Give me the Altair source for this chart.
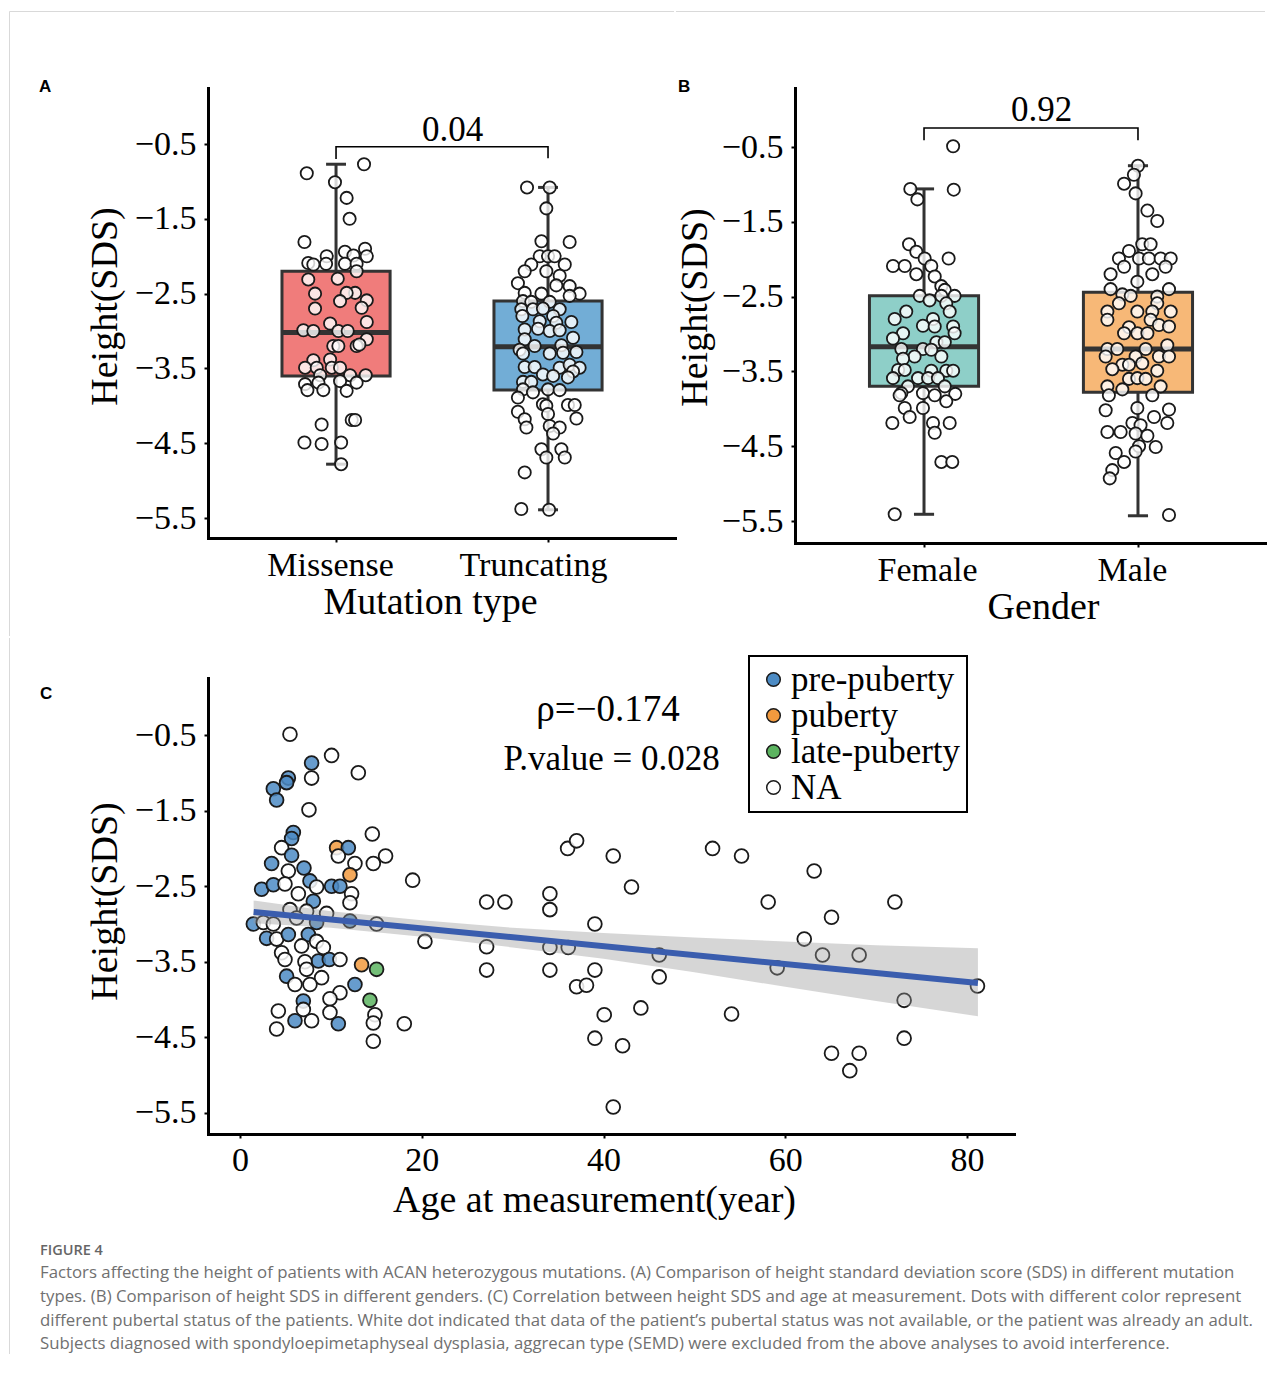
import altair as alt
import pandas as pd

SERIF = "Liberation Serif"
SANS = "Liberation Sans"
CAP_FONT = "Open Sans"
INK = "#333333"
BORDER = "#d9d9d9"

# ---------------- Panel A: mutation type ----------------
mut_categories = ["Missense", "Truncating"]
mut_colors = ["#F07C7B", "#72ADD6"]
mut_upper_hinge = [-2.20, -2.60]
mut_lower_hinge = [-3.60, -3.79]
mut_median = [-3.02, -3.21]
mut_whisker_top = [-0.77, -1.08]
mut_whisker_bottom = [-4.78, -5.39]
missense_sds = [-0.89, -0.77, -1.01, -1.22, -1.50, -1.81, -1.94, -1.90, -2.00, -1.99,
                -2.00, -2.09, -2.11, -2.10, -2.10, -2.10, -2.20, -2.31, -2.30, -2.49,
                -2.49, -2.50, -2.60, -2.59, -2.70, -2.69, -2.88, -2.90, -2.99, -3.00,
                -3.00, -3.00, -3.11, -3.20, -3.18, -3.20, -3.20, -3.39, -3.38, -3.49,
                -3.49, -3.49, -3.49, -3.59, -3.59, -3.59, -3.71, -3.69, -3.67, -3.69,
                -3.79, -3.79, -3.80, -4.19, -4.19, -4.25, -4.49, -4.51, -4.49, -4.78]
missense_jitter = [-0.138, 0.132, -0.005, 0.050, 0.064, -0.149, 0.042, 0.137, -0.044, 0.082,
                   0.145, -0.131, -0.107, -0.047, 0.042, 0.097, 0.097, -0.131, 0.008, 0.090,
                   0.050, -0.099, 0.019, 0.145, -0.099, 0.121, 0.145, -0.028, -0.154, -0.107,
                   0.011, 0.055, 0.145, 0.097, 0.110, -0.013, 0.011, -0.107, -0.028, -0.146,
                   -0.091, -0.020, 0.019, -0.075, 0.066, 0.140, -0.146, -0.083, 0.019, 0.097,
                   -0.135, -0.060, 0.050, 0.074, 0.090, -0.068, -0.149, -0.068, 0.024, 0.024]
truncating_sds = [-1.08, -1.08, -1.36, -1.80, -1.81, -2.00, -2.00, -2.00, -2.11, -2.11,
                  -2.20, -2.20, -2.26, -2.36, -2.39, -2.40, -2.50, -2.53, -2.49, -2.50,
                  -2.60, -2.61, -2.61, -2.71, -2.71, -2.70, -2.71, -2.80, -2.80, -2.87,
                  -2.88, -2.89, -2.98, -2.97, -3.00, -2.99, -3.09, -3.11, -3.19, -3.28,
                  -3.25, -3.30, -3.30, -3.29, -3.20, -3.48, -3.48, -3.49, -3.45, -3.49,
                  -3.54, -3.58, -3.60, -3.62, -3.68, -3.68, -3.78, -3.79, -3.78, -3.89,
                  -3.82, -3.98, -4.00, -3.99, -3.99, -4.08, -4.11, -4.17, -4.18, -4.29,
                  -4.27, -4.29, -4.37, -4.58, -4.58, -4.69, -4.69, -4.89, -5.38, -5.39]
truncating_jitter = [-0.099, 0.008, -0.008, -0.031, 0.102, -0.039, 0.000, 0.031, -0.079, 0.079,
                     -0.110, -0.008, 0.055, -0.142, 0.039, 0.102, 0.149, 0.102, -0.110, -0.031,
                     -0.118, -0.079, 0.008, -0.126, -0.071, -0.024, 0.055, -0.121, 0.024, -0.039,
                     0.110, 0.039, -0.110, -0.047, 0.008, 0.055, 0.118, -0.110, 0.063, 0.134,
                     -0.134, -0.118, 0.008, 0.071, -0.063, -0.110, -0.063, 0.055, 0.102, 0.149,
                     0.118, -0.024, 0.024, 0.094, -0.118, -0.079, 0.000, 0.055, -0.118, -0.142,
                     -0.071, -0.024, -0.008, 0.094, 0.126, -0.142, 0.000, 0.134, -0.110, -0.102,
                     0.008, 0.055, 0.024, -0.031, 0.063, -0.008, 0.079, -0.110, -0.126, 0.005]
mut_p_value = "0.04"
mut_bracket_y = [-0.70, -0.536, -0.536, -0.69]
mut_p_y = -0.46

# ---------------- Panel B: gender ----------------
gender_categories = ["Female", "Male"]
gender_colors = ["#8ECFC8", "#F7B877"]
gender_upper_hinge = [-2.49, -2.44]
gender_lower_hinge = [-3.70, -3.78]
gender_median = [-3.17, -3.20]
gender_whisker_top = [-1.06, -0.75]
gender_whisker_bottom = [-5.41, -5.43]
female_sds = [-0.49, -1.06, -1.07, -1.20, -1.80, -1.90, -1.99, -1.99, -2.09, -2.09,
              -2.09, -2.20, -2.23, -2.36, -2.41, -2.49, -2.55, -2.49, -2.49, -2.59,
              -2.70, -2.80, -2.70, -2.80, -2.89, -2.90, -2.90, -2.99, -2.99, -3.06,
              -3.11, -3.11, -3.20, -3.20, -3.30, -3.33, -3.30, -3.21, -3.48, -3.48,
              -3.49, -3.49, -3.49, -3.59, -3.59, -3.59, -3.59, -3.70, -3.70, -3.79,
              -3.79, -3.82, -3.80, -3.99, -3.99, -3.90, -4.11, -4.19, -4.19, -4.19,
              -4.32, -4.71, -4.71, -5.41, -3.82]
female_jitter = [0.136, -0.064, 0.139, -0.031, -0.070, -0.036, 0.003, 0.115, -0.145, -0.090,
                 0.034, -0.036, 0.050, 0.081, 0.097, -0.020, 0.026, 0.081, 0.143, 0.104,
                 -0.083, -0.137, 0.120, 0.042, -0.005, 0.050, 0.136, 0.143, -0.098, -0.145,
                 0.058, 0.097, -0.106, -0.005, -0.044, -0.098, 0.081, 0.034, -0.121, -0.090,
                 0.034, 0.104, 0.136, -0.145, -0.028, 0.019, 0.065, -0.075, 0.097, -0.106,
                 -0.005, 0.050, 0.146, -0.090, -0.005, 0.104, -0.067, -0.148, 0.042, 0.120,
                 0.050, 0.081, 0.132, -0.137, -0.114]
male_sds = [-0.75, -0.87, -0.99, -1.12, -1.35, -1.49, -1.80, -1.80, -1.89, -1.99,
            -1.99, -1.99, -1.99, -1.99, -2.10, -2.10, -2.20, -2.20, -2.30, -2.40,
            -2.40, -2.47, -2.49, -2.50, -2.59, -2.59, -2.70, -2.70, -2.70, -2.70,
            -2.81, -2.81, -2.91, -2.88, -2.90, -2.99, -2.99, -2.99, -3.15, -3.20,
            -3.20, -3.20, -3.30, -3.30, -3.30, -3.30, -3.41, -3.41, -3.39, -3.47,
            -3.49, -3.60, -3.59, -3.60, -3.70, -3.74, -3.70, -3.82, -3.82, -3.99,
            -4.02, -4.01, -4.11, -4.19, -4.19, -4.22, -4.31, -4.31, -4.33, -4.36,
            -4.50, -4.51, -4.57, -4.59, -4.71, -4.82, -4.93, -5.42]
male_jitter = [0.000, -0.019, -0.065, -0.011, 0.044, 0.090, 0.020, 0.059, -0.042, -0.089,
               0.005, 0.051, 0.106, 0.153, -0.065, 0.129, 0.067, -0.128, -0.003, -0.128,
               0.145, -0.073, -0.034, 0.090, -0.089, 0.090, -0.143, -0.003, 0.067, 0.153,
               -0.143, 0.059, -0.042, 0.098, 0.145, -0.003, 0.044, -0.065, 0.137, -0.143,
               -0.097, 0.036, -0.151, -0.011, 0.098, 0.145, -0.073, -0.042, 0.020, -0.120,
               0.090, -0.042, -0.003, 0.036, -0.143, -0.073, 0.106, -0.136, 0.067, -0.003,
               -0.151, 0.145, 0.075, 0.137, -0.026, 0.012, -0.143, -0.081, -0.011, 0.044,
               0.005, 0.083, -0.011, -0.104, -0.065, -0.120, -0.132, 0.145]
gender_p_value = "0.92"
gender_bracket_y = [-0.41, -0.246, -0.246, -0.41]
gender_p_y = -0.152

# ---------------- Panel C: age vs height ----------------
age_years = [5.50, 10.08, 7.88, 13.02, 7.88, 5.32, 5.13, 3.67, 4.03, 7.59,
             5.87, 14.56, 5.68, 4.58, 10.63, 11.92, 10.82, 5.68, 12.65, 14.67,
             16.02, 3.48, 5.32, 7.04, 12.10, 19.00, 2.38, 3.67, 4.95, 7.70,
             8.43, 10.08, 11.00, 12.28, 6.42, 8.07, 12.10, 5.50, 7.33, 9.53,
             1.47, 2.57, 3.67, 6.23, 8.43, 12.10, 15.03, 20.35, 2.93, 4.03,
             5.32, 7.52, 8.43, 6.78, 9.17, 4.58, 8.62, 9.83, 11.00, 7.15,
             13.38, 15.03, 5.13, 7.33, 8.98, 6.05, 7.70, 12.65, 11.00, 6.97,
             9.90, 14.30, 4.22, 6.97, 9.90, 14.85, 6.05, 7.88, 10.82, 14.67,
             18.08, 4.03, 14.67, 4.95,
             36.05, 37.04, 41.07, 52.00, 43.08, 27.14, 29.15, 34.10, 34.10, 39.05,
             27.14, 34.10, 36.12, 46.13, 27.14, 34.10, 39.05, 37.04, 38.13, 46.13,
             40.08, 44.11, 39.05, 42.10, 41.07, 55.19, 63.18, 58.12, 72.06, 65.09,
             62.09, 64.10, 68.13, 59.11, 81.15, 73.08, 54.09, 73.08, 65.09, 68.13,
             67.10]
height_sds = [-0.49, -0.77, -0.87, -1.00, -1.07, -1.07, -1.13, -1.21, -1.36, -1.49,
              -1.79, -1.81, -1.87, -1.99, -1.99, -1.99, -2.10, -2.09, -2.20, -2.20,
              -2.10, -2.20, -2.30, -2.26, -2.35, -2.42, -2.54, -2.48, -2.47, -2.43,
              -2.51, -2.50, -2.50, -2.60, -2.60, -2.70, -2.72, -2.81, -2.83, -2.86,
              -3.00, -2.98, -3.00, -2.92, -2.98, -2.96, -3.00, -3.23, -3.19, -3.20,
              -3.14, -3.14, -3.23, -3.29, -3.31, -3.38, -3.49, -3.47, -3.47, -3.50,
              -3.54, -3.60, -3.69, -3.60, -3.71, -3.80, -3.80, -3.80, -3.91, -4.02,
              -3.99, -4.01, -4.15, -4.13, -4.17, -4.20, -4.28, -4.28, -4.32, -4.31,
              -4.32, -4.39, -4.55, -3.47,
              -2.00, -1.90, -2.10, -2.00, -2.51, -2.71, -2.71, -2.60, -2.81, -3.00,
              -3.30, -3.31, -3.31, -3.41, -3.61, -3.61, -3.61, -3.83, -3.81, -3.70,
              -4.20, -4.11, -4.51, -4.61, -5.42, -2.10, -2.30, -2.71, -2.71, -2.91,
              -3.20, -3.41, -3.41, -3.58, -3.82, -4.01, -4.19, -4.51, -4.71, -4.71,
              -4.94]
# P = pre-puberty, U = puberty, L = late-puberty, N = not available
status_codes = list("NNPNNPPPPN" "PNPNUPNPNN" "NPNPUNPPNP" "NPPNNPNNNN"
                    "PNNNPPNNPN" "PPNNNNPPNN" "ULPNNNNPNP" "NLNNNNPNPN" "NNNN") + ["N"] * 41
status_names = {"P": "pre-puberty", "U": "puberty", "L": "late-puberty", "N": "NA"}
stage_order = ["pre-puberty", "puberty", "late-puberty", "NA"]
stage_colors = ["#4C8BC4", "#F29A3E", "#5CB460", "#FFFFFF"]
fit_age = [1.5, 81.2]
fit_sds = [-2.84, -3.78]
band_age = [1.5, 10, 20, 30, 40, 50, 60, 70, 81.2]
band_lower = [-2.99, -3.05, -3.17, -3.31, -3.46, -3.64, -3.83, -4.02, -4.22]
band_upper = [-2.69, -2.83, -2.95, -3.05, -3.12, -3.18, -3.23, -3.28, -3.32]
rho_text = "ρ=−0.174"
rho_pos = (40.5, -0.315)
pval_text = "P.value = 0.028"
pval_pos = (40.9, -0.963)

caption_head = "FIGURE 4"
caption_lines = [
    "Factors affecting the height of patients with ACAN heterozygous mutations. (A) Comparison of height standard deviation score (SDS) in different mutation",
    "types. (B) Comparison of height SDS in different genders. (C) Correlation between height SDS and age at measurement. Dots with different color represent",
    "different pubertal status of the patients. White dot indicated that data of the patient\u2019s pubertal status was not available, or the patient was already an adult.",
    "Subjects diagnosed with spondyloepimetaphyseal dysplasia, aggrecan type (SEMD) were excluded from the above analyses to avoid interference.",
]

y_ticks = [-0.5, -1.5, -2.5, -3.5, -4.5, -5.5]
one = pd.DataFrame({"k": [0]})


def text_at(txt, x, y, size, font=SERIF, weight="normal", color="black", align="left"):
    return alt.Chart(one).mark_text(text=txt, font=font, fontSize=size, fontWeight=weight,
                                    color=color, align=align, baseline="alphabetic").encode(
        x=alt.value(x), y=alt.value(y))


def hline(x1, x2, y):
    return alt.Chart(one).mark_rule(color=BORDER, strokeWidth=1).encode(
        x=alt.value(x1), x2=alt.value(x2), y=alt.value(y))


def vline(x, y1, y2):
    return alt.Chart(one).mark_rule(color=BORDER, strokeWidth=1).encode(
        x=alt.value(x), y=alt.value(y1), y2=alt.value(y2))


def box_panel(cats, colors, up, lo, med, wtop, wbot, groups, pval, br_y, p_y,
              xdom, ydom, width, height, xtitle, title_x, title_y, ytitle_pad,
              label, label_x, label_shift, decorations):
    box_df = pd.DataFrame({"cat": cats, "pos": [1, 2], "up": up, "lo": lo, "med": med,
                           "wtop": wtop, "wbot": wbot})
    rows = []
    for i, (sds, jit) in enumerate(groups):
        for s, j in zip(sds, jit):
            rows.append({"cat": cats[i], "xp": i + 1 + j, "sds": s})
    pts_df = pd.DataFrame(rows)
    br_df = pd.DataFrame({"bx": [1, 1, 2, 2], "by": br_y, "k": [0, 1, 2, 3]})
    p_df = pd.DataFrame({"px": [1.55], "py": [p_y], "lab": [pval]})

    xs = alt.Scale(domain=xdom, nice=False, zero=False)
    ys = alt.Scale(domain=ydom, nice=False, zero=False)
    xaxis = alt.Axis(values=[1, 2], labelExpr=f"datum.value == 1 ? '{cats[0]}' : '{cats[1]}'",
                     labelPadding=6, titlePadding=1, titleX=title_x, grid=False,
                     domainCap="square",
                     labelOffset=alt.condition("datum.value == 1", alt.value(label_shift[0]),
                                               alt.value(label_shift[1])))
    yaxis = alt.Axis(values=y_ticks, format=".1f", labelPadding=8, titlePadding=ytitle_pad,
                     titleY=title_y, grid=False, domainCap="square")

    def X(f):
        return alt.X(f, scale=xs, axis=xaxis, title=xtitle)

    def Y(f):
        return alt.Y(f, scale=ys, axis=yaxis, title="Height(SDS)")

    base = alt.Chart(box_df).transform_calculate(
        xl="datum.pos - 0.255", xr="datum.pos + 0.255",
        cl="datum.pos - 0.047", cr="datum.pos + 0.047")
    whisk = base.mark_rule(color=INK, strokeWidth=3).encode(x=X("pos:Q"), y=Y("wbot:Q"), y2="wtop:Q")
    cap_lo = base.mark_rule(color=INK, strokeWidth=3).encode(x=X("cl:Q"), x2="cr:Q", y=Y("wbot:Q"))
    cap_hi = base.mark_rule(color=INK, strokeWidth=3).encode(x=X("cl:Q"), x2="cr:Q", y=Y("wtop:Q"))
    box = base.mark_rect(stroke=INK, strokeWidth=3).encode(
        x=X("xl:Q"), x2="xr:Q", y=Y("up:Q"), y2="lo:Q",
        fill=alt.Fill("cat:N", scale=alt.Scale(domain=cats, range=colors), legend=None))
    median = base.mark_rule(color=INK, strokeWidth=5).encode(x=X("xl:Q"), x2="xr:Q", y=Y("med:Q"))
    pts = alt.Chart(pts_df).mark_circle(size=150, fill="white", fillOpacity=0.8, stroke="#1a1a1a",
                                        strokeWidth=1.8, opacity=1).encode(x=X("xp:Q"), y=Y("sds:Q"))
    bracket = alt.Chart(br_df).mark_line(color="black", strokeWidth=1.6).encode(
        x=X("bx:Q"), y=Y("by:Q"), order="k:Q")
    ptxt = alt.Chart(p_df).mark_text(font=SERIF, fontSize=35, baseline="alphabetic",
                                     align="center").encode(x=X("px:Q"), y=Y("py:Q"), text="lab:N")
    lab = text_at(label, label_x, 4, 17, font=SANS, weight="bold")
    layers = [whisk, box, median, cap_lo, cap_hi, pts, bracket, ptxt, lab] + decorations
    return alt.layer(*layers).properties(width=width, height=height)


panel_a = box_panel(mut_categories, mut_colors, mut_upper_hinge, mut_lower_hinge, mut_median,
                    mut_whisker_top, mut_whisker_bottom,
                    [(missense_sds, missense_jitter), (truncating_sds, truncating_jitter)],
                    mut_p_value, mut_bracket_y, mut_p_y,
                    [0.396, 2.599], [-5.767, 0.249], 467, 450, "Mutation type", 222, 218, 10,
                    "A", -169, (-6, -15),
                    [vline(-198.5, -76.5, 548), hline(-198.5, 466, -76.5)])

panel_b = box_panel(gender_categories, gender_colors, gender_upper_hinge, gender_lower_hinge,
                    gender_median, gender_whisker_top, gender_whisker_bottom,
                    [(female_sds, female_jitter), (male_sds, male_jitter)],
                    gender_p_value, gender_bracket_y, gender_p_y,
                    [0.397, 2.603], [-5.794, 0.289], 472, 455, "Gender", 248, 219, 7,
                    "B", -117, (3, -6),
                    [hline(-119, 470, -76.5)])

# ---- panel C
c_df = pd.DataFrame({"age": age_years, "sds": height_sds,
                     "stage": [status_names[c] for c in status_codes]})
band_df = pd.DataFrame({"age": band_age, "lo": band_lower, "hi": band_upper})
fit_df = pd.DataFrame({"age": fit_age, "sds": fit_sds})
rho_df = pd.DataFrame({"cx": [rho_pos[0]], "cy": [rho_pos[1]], "lab": [rho_text]})
pv_df = pd.DataFrame({"cx": [pval_pos[0]], "cy": [pval_pos[1]], "lab": [pval_text]})

cxs = alt.Scale(domain=[-3.52, 85.17], nice=False, zero=False)
cys = alt.Scale(domain=[-5.778, 0.254], nice=False, zero=False)
cxaxis = alt.Axis(values=[0, 20, 40, 60, 80], format="d", labelPadding=5, titlePadding=4,
                  titleX=386, grid=False, domainCap="square")
cyaxis = alt.Axis(values=y_ticks, format=".1f", labelPadding=8, titlePadding=10, titleY=223,
                  grid=False, domainCap="square")


def CX(f):
    return alt.X(f, scale=cxs, axis=cxaxis, title="Age at measurement(year)")


def CY(f):
    return alt.Y(f, scale=cys, axis=cyaxis, title="Height(SDS)")


c_pts = alt.Chart(c_df).mark_circle(size=190, stroke="#1a1a1a", strokeWidth=1.8,
                                    fillOpacity=0.85, opacity=1).encode(
    x=CX("age:Q"), y=CY("sds:Q"),
    fill=alt.Fill("stage:N", scale=alt.Scale(domain=stage_order, range=stage_colors),
                  legend=alt.Legend(title=None, orient="none", legendX=541, legendY=-22,
                                    strokeColor="black", padding=6, labelFont=SERIF,
                                    labelFontSize=35, labelLimit=400, symbolType="circle",
                                    symbolSize=185, symbolStrokeColor="#1a1a1a",
                                    symbolStrokeWidth=1.5, symbolOpacity=1, rowPadding=0,
                                    labelOffset=0, symbolOffset=1)))
c_band = alt.Chart(band_df).mark_area(color="#999999", opacity=0.4).encode(
    x=CX("age:Q"), y=CY("lo:Q"), y2="hi:Q")
c_fit = alt.Chart(fit_df).mark_line(color="#3A5DAE", strokeWidth=6).encode(x=CX("age:Q"), y=CY("sds:Q"))
c_rho = alt.Chart(rho_df).mark_text(font=SERIF, fontSize=37, baseline="alphabetic",
                                    align="center").encode(x=CX("cx:Q"), y=CY("cy:Q"), text="lab:N")
c_pv = alt.Chart(pv_df).mark_text(font=SERIF, fontSize=35, baseline="alphabetic",
                                  align="center").encode(x=CX("cx:Q"), y=CY("cy:Q"), text="lab:N")
c_layers = [c_pts, c_band, c_fit, c_rho, c_pv,
            text_at("C", -168, 21, 17, font=SANS, weight="bold"),
            text_at(caption_head, -168, 577, 14.5, font=CAP_FONT, weight=600, color="#666666")]
for i, line in enumerate(caption_lines):
    c_layers.append(text_at(line, -168, 600 + 23.8 * i, 16.8, font=CAP_FONT, color="#707070"))
c_layers.append(vline(-198.5, -40, 676))
panel_c = alt.layer(*c_layers).properties(width=806, height=456)

top_row = alt.hconcat(panel_a, panel_b, spacing=0).resolve_scale(fill="independent")
chart = alt.vconcat(top_row, panel_c, spacing=0).resolve_scale(
    fill="independent"
).configure_view(
    strokeWidth=0
).configure_axis(
    domainColor="black", domainWidth=3, tickColor="black", tickWidth=2, tickSize=4,
    labelFont=SERIF, labelFontSize=34, labelColor="black",
    titleFont=SERIF, titleFontSize=38, titleFontWeight="normal", titleColor="black"
).configure_legend(strokeWidth=2).properties(
    padding={"left": 1, "top": 3, "right": 0, "bottom": 0}
)

chart.save("out.html", embed_options={"renderer": "svg", "actions": False})
